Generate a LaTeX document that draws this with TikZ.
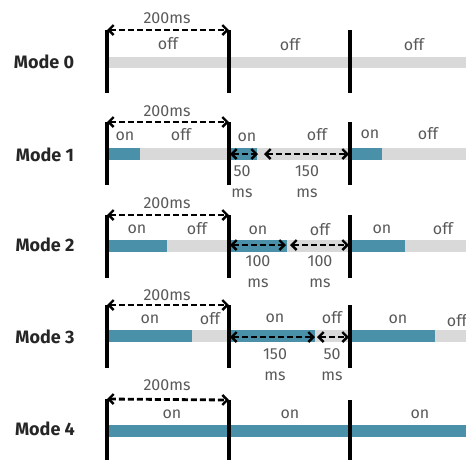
\documentclass[tikz,border=0pt]{standalone}
\usepackage{fontspec}
\setmainfont{Fira Sans}
\usetikzlibrary{arrows.meta}
\definecolor{teal1}{HTML}{4A90A8}
\definecolor{strip}{HTML}{D9D9D9}
\definecolor{txt}{HTML}{595959}
\tikzset{
  bar/.style={line width=3.2pt, black},
  offseg/.style={fill=strip, draw=none},
  onseg/.style={fill=teal1, draw=none},
  dim/.style={line width=2.8pt, dash pattern=on 6pt off 3pt,
    {Straight Barb[length=5pt,width=10pt,line width=2.4pt]}-{Straight Barb[length=5pt,width=10pt,line width=2.4pt]}},
  lbl/.style={text=txt, font=\fontsize{16}{16}\selectfont, inner sep=0pt},
  ms/.style={text=txt, font=\fontsize{16}{21}\selectfont, inner sep=0pt, align=center},
  mode/.style={text=black!85, font=\fontsize{18}{18}\selectfont\bfseries, inner sep=0pt},
}
\begin{document}
\begin{tikzpicture}[x=1pt,y=-1pt]
\useasboundingbox (0,0) rectangle (466,459);

% ---------- Mode 0 ----------
\node[mode] (m0) at (44,62) {Mode 0};
\fill[offseg] (107,57) rectangle (466,68);
\coordinate (a0t) at (107,30); \coordinate (a0b) at (107,93);
\coordinate (b0t) at (229,30); \coordinate (b0b) at (229,93);
\coordinate (c0t) at (350,30); \coordinate (c0b) at (350,93);
\draw[bar] (a0t) -- (a0b); \draw[bar] (b0t) -- (b0b); \draw[bar] (c0t) -- (c0b);
\draw[dim] (a0t) -- (b0t);
\node[lbl] (p0) at (167,18) {200ms};
\node[lbl] (o0a) at (168,44) {off};
\node[lbl] (o0b) at (290,45) {off};
\node[lbl] (o0c) at (414,45) {off};

% ---------- Mode 1 ----------
\node[mode] (m1) at (45,155) {Mode 1};
\fill[offseg] (107,148) rectangle (466,160);
\fill[onseg] (107,148) rectangle (140,160);
\fill[onseg] (229,148) rectangle (257,160);
\fill[onseg] (350,148) rectangle (382,160);
\coordinate (a1t) at (107,122); \coordinate (a1b) at (107,185);
\coordinate (b1t) at (229,122); \coordinate (b1b) at (229,185);
\coordinate (c1t) at (350,122); \coordinate (c1b) at (350,185);
\draw[bar] (a1t) -- (a1b); \draw[bar] (b1t) -- (b1b); \draw[bar] (c1t) -- (c1b);
\draw[dim] (a1t) -- (b1t);
\coordinate (d1a) at (230,154); \coordinate (d1b) at (258,154);
\coordinate (d1c) at (264,154); \coordinate (d1d) at (349,154);
\draw[dim] (d1a) -- (d1b);
\draw[dim] (d1c) -- (d1d);
\node[lbl] (p1) at (167,111) {200ms};
\node[lbl] (n1a) at (125,136) {on};
\node[lbl] (f1a) at (181,135) {off};
\node[lbl] (n1b) at (247,137) {on};
\node[lbl] (f1b) at (317,135) {off};
\node[lbl] (n1c) at (370,134) {on};
\node[lbl] (f1c) at (428,134) {off};
\node[ms] (t1a) at (242,182) {50\\ms};
\node[ms] (t1b) at (307,182) {150\\ms};

% ---------- Mode 2 ----------
\node[mode] (m2) at (45,245) {Mode 2};
\fill[offseg] (107,240) rectangle (466,252);
\fill[onseg] (107,240) rectangle (167,252);
\fill[onseg] (229,240) rectangle (287,252);
\fill[onseg] (350,240) rectangle (405,252);
\coordinate (a2t) at (107,215); \coordinate (a2b) at (107,278);
\coordinate (b2t) at (229,215); \coordinate (b2b) at (229,278);
\coordinate (c2t) at (350,215); \coordinate (c2b) at (350,278);
\draw[bar] (a2t) -- (a2b); \draw[bar] (b2t) -- (b2b); \draw[bar] (c2t) -- (c2b);
\draw[dim] (a2t) -- (b2t);
\coordinate (d2a) at (230,245); \coordinate (d2b) at (286,245);
\coordinate (d2c) at (290,245); \coordinate (d2d) at (349,245);
\draw[dim] (d2a) -- (d2b);
\draw[dim] (d2c) -- (d2d);
\node[lbl] (p2) at (167,203) {200ms};
\node[lbl] (n2a) at (137,229) {on};
\node[lbl] (f2a) at (197,229) {off};
\node[lbl] (n2b) at (258,230) {on};
\node[lbl] (f2b) at (320,230) {off};
\node[lbl] (n2c) at (382,229) {on};
\node[lbl] (f2c) at (443,229) {off};
\node[ms] (t2a) at (258,272) {100\\ms};
\node[ms] (t2b) at (320,272) {100\\ms};

% ---------- Mode 3 ----------
\node[mode] (m3) at (45,337) {Mode 3};
\fill[offseg] (107,330) rectangle (466,342);
\fill[onseg] (107,330) rectangle (192,342);
\fill[onseg] (229,330) rectangle (315,342);
\fill[onseg] (350,330) rectangle (435,342);
\coordinate (a3t) at (107,305); \coordinate (a3b) at (107,368);
\coordinate (b3t) at (229,305); \coordinate (b3b) at (229,368);
\coordinate (c3t) at (350,305); \coordinate (c3b) at (350,368);
\draw[bar] (a3t) -- (a3b); \draw[bar] (b3t) -- (b3b); \draw[bar] (c3t) -- (c3b);
\draw[dim] (a3t) -- (b3t);
\coordinate (d3a) at (230,337); \coordinate (d3b) at (315,337);
\coordinate (d3c) at (317,337); \coordinate (d3d) at (349,337);
\draw[dim] (d3a) -- (d3b);
\draw[dim] (d3c) -- (d3d);
\node[lbl] (p3) at (167,295) {200ms};
\node[lbl] (n3a) at (150,319) {on};
\node[lbl] (f3a) at (210,319) {off};
\node[lbl] (n3b) at (275,318) {on};
\node[lbl] (f3b) at (332,318) {off};
\node[lbl] (n3c) at (398,319) {on};
\node[lbl] (f3c) at (457,321) {off};
\node[ms] (t3a) at (275,365) {150\\ms};
\node[ms] (t3b) at (332,365) {50\\ms};

% ---------- Mode 4 ----------
\node[mode] (m4) at (45,429) {Mode 4};
\fill[onseg] (107,425) rectangle (466,437);
\coordinate (a4t) at (107,399); \coordinate (a4b) at (107,461);
\coordinate (b4t) at (229,400); \coordinate (b4b) at (229,461);
\coordinate (c4t) at (350,400); \coordinate (c4b) at (350,461);
\draw[bar] (a4t) -- (a4b); \draw[bar] (b4t) -- (b4b); \draw[bar] (c4t) -- (c4b);
\draw[dim] (a4t) -- (b4t);
\node[lbl] (p4) at (167,385) {200ms};
\node[lbl] (n4a) at (172,414) {on};
\node[lbl] (n4b) at (290,414) {on};
\node[lbl] (n4c) at (420,414) {on};
\end{tikzpicture}
\end{document}
